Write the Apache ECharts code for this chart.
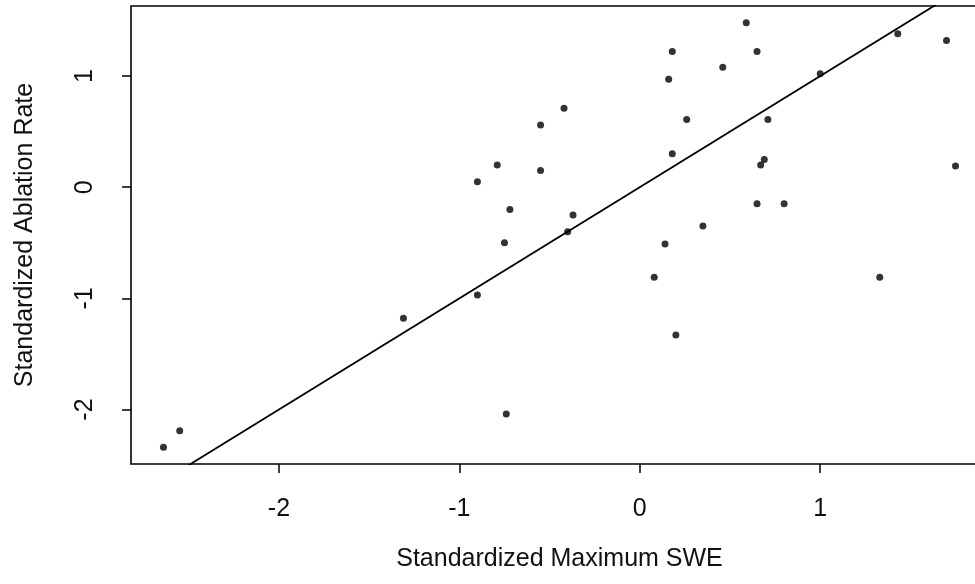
<!DOCTYPE html>
<html>
<head>
<meta charset="utf-8">
<title>Standardized Ablation Rate vs Maximum SWE</title>
<script src="https://cdn.jsdelivr.net/npm/echarts@6/dist/echarts.min.js"></script>
<style>
  html, body { margin: 0; padding: 0; background: #fff; overflow: hidden; }
  /* chart is wider than the window: the plot box runs past the right edge */
  #chart { width: 1000px; height: 584px; }
</style>
</head>
<body>
<div id="chart"></div>
<script>
// standardized max SWE (x) and standardized ablation rate (y)
var sweX = [-2.64, -2.55, -1.31, -0.90, -0.90, -0.79, -0.75, -0.72, -0.55, -0.55,
            -0.42, -0.40, -0.37, -0.74, 0.08, 0.14, 0.16, 0.18, 0.18, 0.20,
            0.26, 0.35, 0.46, 0.59, 0.65, 0.65, 0.67, 0.69, 0.71, 0.80,
            1.00, 1.33, 1.43, 1.70, 1.75];
var ablation = [-2.34, -2.19, -1.18, -0.97, 0.05, 0.20, -0.50, -0.20, 0.56, 0.15,
                0.71, -0.40, -0.25, -2.04, -0.81, -0.51, 0.97, 1.22, 0.30, -1.33,
                0.61, -0.35, 1.08, 1.48, 1.22, -0.15, 0.20, 0.25, 0.61, -0.15,
                1.02, -0.81, 1.38, 1.32, 0.19];

// fitted line y = slope * x + intercept
var slope = 1.0;
var intercept = 0.0;

var xTicks = [-2, -1, 0, 1];
var yTicks = [-2, -1, 0, 1];
var xRange = [-2.82, 1.93];
var yRange = [-2.49, 1.63];

var points = sweX.map(function (x, i) { return [x, ablation[i]]; });
var fitLine = xRange.map(function (x) { return [x, slope * x + intercept]; });

var font = '"Liberation Sans", Arial, Helvetica, sans-serif';

var chart = echarts.init(document.getElementById('chart'));
chart.setOption({
    animation: false,
    backgroundColor: '#fff',
    grid: {
        left: 131, top: 6, right: 12, bottom: 120,
        outerBoundsMode: 'none',
        show: true, borderColor: '#000', borderWidth: 1.6, backgroundColor: 'transparent'
    },
    xAxis: {
        type: 'value',
        min: xRange[0], max: xRange[1],
        name: 'Standardized Maximum SWE',
        nameLocation: 'middle',
        nameGap: 83,
        nameTextStyle: { fontFamily: font, fontSize: 25, color: '#111' },
        axisLine: { show: false, onZero: false },
        splitLine: { show: false },
        axisTick: {
            show: true, length: 9, inside: false, customValues: xTicks,
            lineStyle: { color: '#000', width: 1.5 }
        },
        axisLabel: {
            customValues: xTicks, margin: 33,
            fontFamily: font, fontSize: 25, color: '#111'
        }
    },
    yAxis: {
        type: 'value',
        min: yRange[0], max: yRange[1],
        name: 'Standardized Ablation Rate',
        nameLocation: 'middle',
        nameGap: 93,
        nameTextStyle: { fontFamily: font, fontSize: 25, color: '#111' },
        axisLine: { show: false, onZero: false },
        splitLine: { show: false },
        axisTick: {
            show: true, length: 9, inside: false, customValues: yTicks,
            lineStyle: { color: '#000', width: 1.5 }
        },
        axisLabel: {
            customValues: yTicks, margin: 33, rotate: 90,
            fontFamily: font, fontSize: 25, color: '#111'
        }
    },
    series: [
        {
            type: 'scatter',
            data: points,
            symbol: 'circle',
            symbolSize: 7,
            itemStyle: { color: '#000' },
            z: 3
        },
        {
            type: 'line',
            data: fitLine,
            symbol: 'none',
            clip: true,
            lineStyle: { color: '#000', width: 1.8 },
            z: 2
        }
    ]
});
</script>
</body>
</html>
